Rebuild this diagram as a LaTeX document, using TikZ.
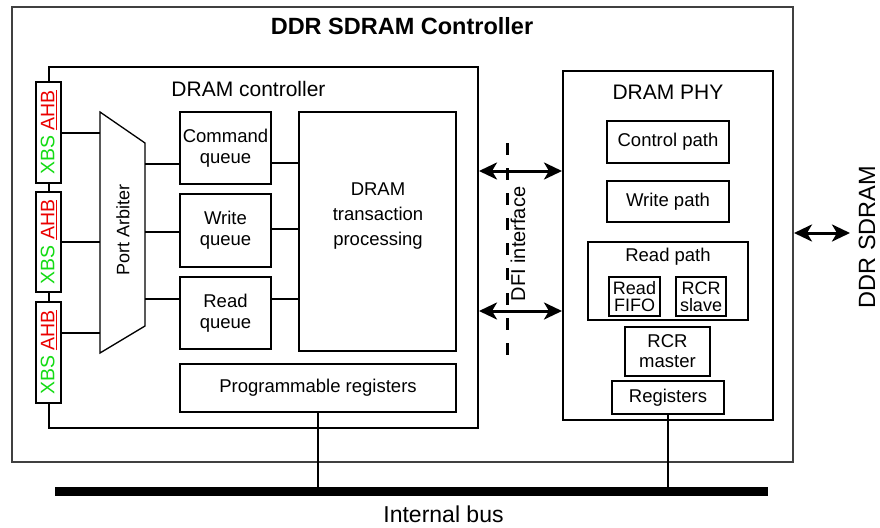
\documentclass[tikz,border=0pt]{standalone}
\usepackage{fontspec}
\setmainfont{Liberation Sans}
\usetikzlibrary{arrows.meta,calc}
\definecolor{xbsgreen}{RGB}{20,220,20}
\definecolor{ahbred}{RGB}{235,0,0}
\tikzset{
  blk/.style={
    draw,
    line width=2pt,
    inner sep=0pt,
    align=center,
    font=\fontsize{18.5}{21}\selectfont
  },
  xbs/.style={
    draw,
    fill=white,
    line width=2pt,
    inner sep=0pt,
    minimum height=25,
    minimum width=101,
    rotate=90,
    font=\fontsize{19.5}{22}\selectfont
  },
  wire/.style={line width=2pt},
  dfi/.style={
    line width=3pt,
    {Stealth[length=18pt,width=17pt,inset=5pt]}-{Stealth[length=18pt,width=17pt,inset=5pt]}
  },
  dfiline/.style={line width=3pt, dash pattern=on 12pt off 13pt},
  title/.style={font=\fontsize{21}{25}\selectfont},
  vlabel/.style={rotate=90, inner sep=0pt}
}
\newcommand{\xbsahb}{{\color{xbsgreen}XBS} {\color{ahbred}\underline{AHB}}}

\begin{document}
\begin{tikzpicture}[x=1pt, y=-1pt]
  \useasboundingbox (0,0) rectangle (880,527);
  % outer controller
  \node[draw=black!75, line width=2pt, minimum width=781, minimum height=455] (ddrctl) at (402.5,234.5) {};
  \node[font=\bfseries\fontsize{23.5}{27}\selectfont] (ddrlbl) at (402,26) {DDR SDRAM Controller};

  % DRAM controller
  \node[draw, line width=2pt, minimum width=429, minimum height=361] (dramctl) at (263.5,247.5) {};
  \node[title] (dramlbl) at (248.5,89) {DRAM controller};
  \node[xbs, minimum width=101] (xbs1) at (48.5,132.5) {\xbsahb};
  \node[xbs, minimum width=100] (xbs2) at (48.5,242) {\xbsahb};
  \node[xbs, minimum width=101] (xbs3) at (48.5,352.5) {\xbsahb};

  \draw[line width=1.3pt] (100,112) coordinate (arbNW) -- (145,143) coordinate (arbNE)
    -- (145,326) coordinate (arbSE) -- (100,353) coordinate (arbSW) -- cycle;
  \node[vlabel, font=\fontsize{18}{21}\selectfont] (arblbl) at (123,230) {Port Arbiter};

  \node[blk, minimum width=91, minimum height=72] (cmdq) at (225.5,148) {Command\\queue};
  \node[blk, minimum width=91, minimum height=73] (wrq) at (225.5,230.5) {Write\\queue};
  \node[blk, minimum width=91, minimum height=72] (rdq) at (225.5,313) {Read\\queue};
  \node[blk, minimum width=157, minimum height=239] (trans) at (377.5,231.5) {};
  \node[align=center, font=\fontsize{18.5}{25}\selectfont] (translbl) at (378,216) {DRAM\\transaction\\processing};
  \node[blk, minimum width=276, minimum height=48] (progreg) at (318,388) {Programmable registers};

  \draw[wire] (xbs1.south) -- (xbs1.south -| arbNW);
  \draw[wire] (xbs2.south) -- (xbs2.south -| arbNW);
  \draw[wire] ([yshift=19.5pt]xbs3.south) -- ([yshift=19.5pt]xbs3.south -| arbNW);
  \draw[wire] ([yshift=-16pt]cmdq.west) -- ([yshift=-16pt]cmdq.west -| arbNE);
  \draw[wire] ([yshift=-1.5pt]wrq.west) -- ([yshift=-1.5pt]wrq.west -| arbNE);
  \draw[wire] ([yshift=14pt]rdq.west) -- ([yshift=14pt]rdq.west -| arbNE);
  \draw[wire] ([yshift=-15pt]cmdq.east) -- ([yshift=-15pt]cmdq.east -| trans.west);
  \draw[wire] ([yshift=1.5pt]wrq.east) -- ([yshift=1.5pt]wrq.east -| trans.west);
  \draw[wire] ([yshift=14pt]rdq.east) -- ([yshift=14pt]rdq.east -| trans.west);

  % DRAM PHY
  \node[draw, line width=2pt, minimum width=210, minimum height=349] (phy) at (668,245.5) {};
  \node[title] (phylbl) at (668,92) {DRAM PHY};
  \node[blk, minimum width=122, minimum height=42] (ctrlpath) at (668,142) {Control path};
  \node[blk, minimum width=122, minimum height=41] (wrpath) at (668,201.5) {Write path};
  \node[blk, minimum width=160, minimum height=78] (rdpath) at (668,281) {};
  \node[font=\fontsize{18.5}{21}\selectfont] (rdlbl) at (668,257) {Read path};
  \node[blk, minimum width=51, minimum height=39, font=\fontsize{18}{17}\selectfont] (rdfifo) at (634.5,296.5) {Read\\FIFO};
  \node[blk, minimum width=50, minimum height=39, font=\fontsize{18}{17}\selectfont] (rcrslave) at (701,296.5) {RCR\\slave};
  \node[blk, minimum width=85, minimum height=49, font=\fontsize{18.5}{20}\selectfont] (rcrmaster) at (667.5,351.5) {RCR\\master};
  \node[blk, minimum width=112, minimum height=33] (phyreg) at (668,397.5) {Registers};

  % DFI interface
  \draw[dfi] ([yshift=76.5pt]dramctl.east) -- ([yshift=76.5pt]dramctl.east -| phy.west);
  \draw[dfi] ([yshift=-63.5pt]dramctl.east) -- ([yshift=-63.5pt]dramctl.east -| phy.west);
  \coordinate (dfitop) at (507,143);
  \coordinate (dfibot) at (507,367);
  \draw[dfiline] (dfitop) -- (dfibot);
  \node[vlabel, font=\fontsize{20}{24}\selectfont] (dfilbl) at (518,244) {DFI interface};

  \coordinate (ddrpin) at (850,233);
  \draw[dfi] (ddrctl.east |- ddrpin) -- (ddrpin);
  \node[vlabel, font=\fontsize{23.5}{27}\selectfont] (sdramlbl) at (867,237) {DDR SDRAM};

  % internal bus
  \coordinate (busW) at (55,491);
  \coordinate (busE) at (768,491);
  \draw[line width=9pt] (busW) -- (busE);
  \draw[wire] (progreg.south) -- (progreg.south |- busW);
  \draw[wire] (phyreg.south) -- (phyreg.south |- busW);
  \node[inner sep=0pt, font=\fontsize{23}{27}\selectfont] (buslbl) at (443.5,514) {Internal bus};
\end{tikzpicture}
\end{document}
